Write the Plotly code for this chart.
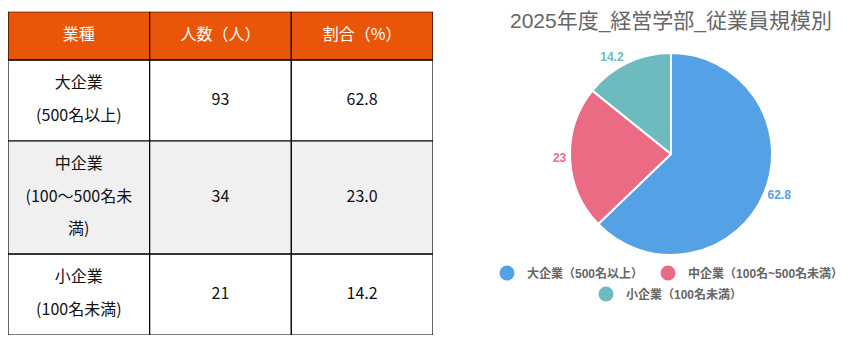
import plotly.graph_objects as go

# ---------------- data ----------------
header_labels = ["業種", "人数（人）", "割合（%）"]
category_lines = [["大企業", "(500名以上)"],
                  ["中企業", "(100～500名未", "満)"],
                  ["小企業", "(100名未満)"]]
counts = [93, 34, 21]
shares = [62.8, 23.0, 14.2]

chart_title = "2025年度_経営学部_従業員規模別"
pie_labels = ["大企業（500名以上）", "中企業（100名~500名未満）", "小企業（100名未満）"]
pie_values = [62.8, 23, 14.2]
pie_colors = ["#55A1E5", "#EC6B84", "#6DBBBF"]

# ---------------- styles ----------------
W, H = 865, 346
JP = "Noto Sans CJK JP"
HEAD_BG = "#E9560A"
ROW_BG = ["#FFFFFF", "#F0F0F0", "#FFFFFF"]

fig = go.Figure()

# table geometry in "line" units (1 unit = one text line)
rows = [[[h] for h in header_labels]]
for cat, c, s in zip(category_lines, counts, shares):
    rows.append([cat, [str(c)], [f"{s:.1f}"]])

row_heights = [max(len(cell) for cell in r) + 0.5 for r in rows]
row_tops = [sum(row_heights[:i]) for i in range(len(rows))]
total_h = sum(row_heights)
ncols = len(header_labels)

shapes = []
for ri, r in enumerate(rows):
    top = row_tops[ri]
    bottom = top + row_heights[ri]
    fill = HEAD_BG if ri == 0 else ROW_BG[ri - 1]
    for ci in range(ncols):
        shapes.append(dict(type="rect", xref="x", yref="y",
                           x0=ci, x1=ci + 1, y0=top, y1=bottom,
                           fillcolor=fill, line=dict(color="#000000", width=1.2),
                           layer="below"))

# cell texts
for ri, r in enumerate(rows):
    xs, ys, ts = [], [], []
    center = row_tops[ri] + row_heights[ri] / 2
    for ci, cell in enumerate(r):
        n = len(cell)
        for k, line in enumerate(cell):
            xs.append(ci + 0.5)
            ys.append(center + (k - (n - 1) / 2))
            ts.append(line)
    fig.add_trace(go.Scatter(
        x=xs, y=ys, text=ts, mode="text", showlegend=False, hoverinfo="skip",
        textfont=dict(family=JP, size=16,
                      color="#FFFFFF" if ri == 0 else "#111111"),
        cliponaxis=False, xaxis="x", yaxis="y"))

# legend entries (circle markers)
for i, (lab, col) in enumerate(zip(pie_labels, pie_colors)):
    fig.add_trace(go.Scatter(
        x=[None], y=[None], mode="markers", name=lab,
        marker=dict(color=col, size=15, symbol="circle"),
        legend="legend" if i < 2 else "legend2",
        xaxis="x", yaxis="y"))

# pie
fig.add_trace(go.Pie(
    labels=pie_labels, values=pie_values, sort=False,
    direction="clockwise", rotation=0,
    marker=dict(colors=pie_colors, line=dict(color="#FFFFFF", width=2)),
    textposition="outside", texttemplate="%{value}",
    outsidetextfont=dict(family="Liberation Sans, Arial, sans-serif", size=12,
                         color=pie_colors, weight="bold"),
    showlegend=False,
    domain=dict(x=[570 / W, 772 / W], y=[(H - 255) / H, (H - 53) / H])))

legend_common = dict(orientation="h", xanchor="center", yanchor="middle",
                     itemsizing="trace", bgcolor="rgba(0,0,0,0)",
                     font=dict(family="Liberation Sans, " + JP, size=12,
                               color="#666666", weight="bold"))

fig.update_layout(
    width=W, height=H, margin=dict(l=0, r=0, t=0, b=0),
    paper_bgcolor="#FFFFFF", plot_bgcolor="#FFFFFF",
    shapes=shapes,
    xaxis=dict(domain=[8 / W, 433 / W], range=[0, ncols], visible=False,
               fixedrange=True),
    yaxis=dict(domain=[(H - 335) / H, (H - 11.7) / H], range=[total_h, 0],
               visible=False, fixedrange=True),
    title=dict(text=chart_title, x=671 / W, xanchor="center",
               y=1 - 21 / H, yanchor="middle",
               font=dict(family="Liberation Sans, " + JP, size=21,
                         color="#666666")),
    legend=dict(x=668 / W, y=(H - 273) / H, **legend_common),
    legend2=dict(x=667 / W, y=(H - 294) / H, **legend_common),
)

fig.write_html("out.html")
